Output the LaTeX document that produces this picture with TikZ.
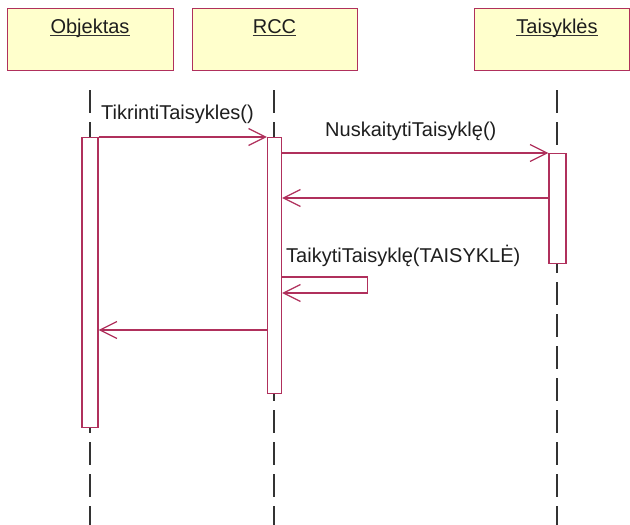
\documentclass[tikz,border=0pt]{standalone}
\usepackage{fontspec}
\setmainfont{Liberation Sans}
\usepackage{xcolor}
\usepackage{tikz}
\usetikzlibrary{positioning, arrows.meta, calc}
\definecolor{Crimson} {HTML}{B0305C}
\definecolor{BoxFill} {HTML}{FFFFCC}
\definecolor{LineGry} {HTML}{333333}
\definecolor{InkGry}  {HTML}{1E1E1E}

\tikzset{
  objbox/.style={draw=Crimson, fill=BoxFill, line width=1.3pt, inner sep=0pt,
                 minimum height=62pt, anchor=north west},
  objname/.style={font=\fontsize{20}{24}\selectfont, text=InkGry, inner sep=0pt, anchor=base},
  lifeline/.style={LineGry, line width=1.6pt, dash pattern=on 23pt off 9pt},
  actbar/.style={draw=Crimson, fill=white, line width=1.3pt, inner sep=0pt, anchor=north},
  msg/.style={Crimson, line width=1.3pt, -{Straight Barb[length=17pt, width=17pt, line width=1.2pt]}},
  msglabel/.style={font=\fontsize{20}{24}\selectfont, text=InkGry, inner sep=0pt, anchor=base west}
}

\begin{document}
\begin{tikzpicture}[x=1pt, y=-1pt]
      \clip (0,0) rectangle (630,525);
      \fill[white] (0,0) rectangle (630,525);

      % ── object boxes ────────────────────────────────────────────────────────
      \node[objbox, minimum width=166pt] (boxO) at (7,8) {};
      \node[objbox, minimum width=165pt] (boxR) at (192,8) {};
      \node[objbox, minimum width=155pt] (boxT) at (474,8) {};

      \node[objname] (nameO) at (90,33) {Objektas};
      \node[objname] (nameR) at (274.5,33) {RCC};
      \node[objname] (nameT) at (557,33) {Taisyklės};
      \foreach \n in {nameO, nameR, nameT} {
        \draw[LineGry, line width=1.3pt]
          ([yshift=-2.5pt]\n.base west) -- ([yshift=-2.5pt]\n.base east);
      }

      % ── lifelines (behind the bars) ─────────────────────────────────────────
      \coordinate (lifeO) at (90,90);
      \coordinate (lifeR) at (274,90);
      \coordinate (lifeT) at (557,90);
      \draw[lifeline] (lifeO) -- (90,525);
      \draw[lifeline] (lifeR) -- (274,525);
      \draw[lifeline] (lifeT) -- (557,525);

      % ── activation bars ─────────────────────────────────────────────────────
      \node[actbar, minimum width=16pt, minimum height=290pt] (barO) at (90,137) {};
      \node[actbar, minimum width=14pt, minimum height=256pt] (barR) at (274.5,137) {};
      \node[actbar, minimum width=17pt, minimum height=110pt] (barT) at (557.5,153) {};

      % ── messages ────────────────────────────────────────────────────────────
      \coordinate (ret1) at (0,198);
      \coordinate (self1) at (0,277);
      \coordinate (self2) at (0,293);
      \coordinate (ret2) at (0,330);

      \draw[msg] (barO.north east) -- (barR.north west);
      \draw[msg] (barR.east |- barT.north) -- (barT.north west);
      \draw[msg] (barT.west |- ret1) -- (barR.east |- ret1);
      \draw[msg] (barR.east |- self1) -- ++(85,0) |- (barR.east |- self2);
      \draw[msg] (barR.west |- ret2) -- (barO.east |- ret2);

      % ── message labels ──────────────────────────────────────────────────────
      \node[msglabel] (lab1) at (101,119) {TikrintiTaisykles()};
      \node[msglabel] (lab2) at (325,136) {NuskaitytiTaisyklę()};
      \node[msglabel] (lab3) at (286,262) {TaikytiTaisyklę(TAISYKLĖ)};
    \end{tikzpicture}
\end{document}
